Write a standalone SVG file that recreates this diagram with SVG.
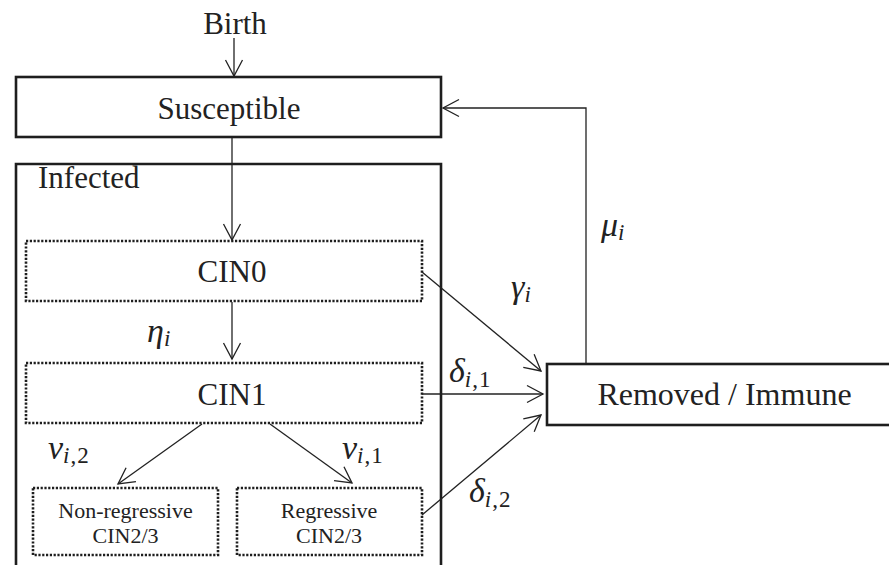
<svg xmlns="http://www.w3.org/2000/svg" width="889" height="565" viewBox="0 0 889 565">
<style>
.box{fill:none;stroke:#1e1e1e;stroke-width:2.6}
.dot{fill:none;stroke:#1e1e1e;stroke-width:2.6;stroke-dasharray:2.2 1.6}
.con{fill:none;stroke:#222;stroke-width:1.3;marker-end:url(#ah)}
text{font-family:"Liberation Serif","DejaVu Serif",Tinos,serif;fill:#222}
.lbl{text-anchor:middle}
.math{font-style:italic;font-size:34px}
.sub{font-size:23px;letter-spacing:1px}
.up{font-style:normal}
</style>
<defs>
<marker id="ah" markerUnits="userSpaceOnUse" markerWidth="24" markerHeight="24" viewBox="-20 -12 24 24" refX="0" refY="0" orient="auto">
<path d="M-16,-8.5 L0,0 L-16,8.5" fill="none" stroke="#222" stroke-width="1.3"/>
</marker>
</defs>
<rect width="889" height="565" fill="#fff"/>
<g id="birth"><text class="lbl" x="235" y="34" font-size="31">Birth</text></g>
<g id="susceptible"><rect class="box" x="16" y="77" width="425" height="60"/><text class="lbl" x="229" y="119" font-size="31">Susceptible</text></g>
<g id="infected"><path class="box" d="M16,566 V164 H441 V566"/><text x="38" y="188" font-size="31">Infected</text></g>
<g id="cin0"><rect class="dot" x="26" y="241" width="396" height="60"/><text class="lbl" x="232" y="282" font-size="31">CIN0</text></g>
<g id="cin1"><rect class="dot" x="26" y="363" width="396" height="60"/><text class="lbl" x="232" y="405" font-size="31">CIN1</text></g>
<g id="nonreg"><rect class="dot" x="33" y="488" width="185" height="67"/><text class="lbl" x="125.5" y="518" font-size="22">Non-regressive</text><text class="lbl" x="125.5" y="543" font-size="22">CIN2/3</text></g>
<g id="reg"><rect class="dot" x="237" y="488" width="185" height="67"/><text class="lbl" x="329" y="518" font-size="22">Regressive</text><text class="lbl" x="329" y="543" font-size="22">CIN2/3</text></g>
<g id="removed"><rect class="box" x="547" y="364" width="360" height="61"/><text class="lbl" x="724.5" y="405" font-size="32">Removed / Immune</text></g>
<g id="connectors">
<line class="con" x1="234" y1="38" x2="234" y2="76"/>
<line class="con" x1="232" y1="138" x2="232" y2="240"/>
<line class="con" x1="232" y1="302" x2="232" y2="359"/>
<line class="con" x1="202" y1="424" x2="118" y2="484"/>
<line class="con" x1="270" y1="424" x2="352" y2="483"/>
<line class="con" x1="422" y1="272" x2="541" y2="371"/>
<line class="con" x1="422" y1="394" x2="543" y2="394"/>
<line class="con" x1="422" y1="515" x2="541" y2="415"/>
<polyline class="con" points="586,363 586,108 443,108"/>
</g>
<g id="labels">
<text class="math" x="147" y="342">η<tspan class="sub" dy="4">i</tspan></text>
<text class="math" x="48" y="459">ν<tspan class="sub" dy="4">i<tspan class="up">,2</tspan></tspan></text>
<text class="math" x="342" y="459">ν<tspan class="sub" dy="4">i<tspan class="up">,1</tspan></tspan></text>
<text class="math" x="511" y="298">γ<tspan class="sub" dy="4">i</tspan></text>
<text class="math" x="601" y="236">μ<tspan class="sub" dy="4">i</tspan></text>
<text class="math" x="449" y="382">δ<tspan class="sub" dy="5">i<tspan class="up">,1</tspan></tspan></text>
<text class="math" x="469" y="502">δ<tspan class="sub" dy="5">i<tspan class="up">,2</tspan></tspan></text>
</g>
</svg>
